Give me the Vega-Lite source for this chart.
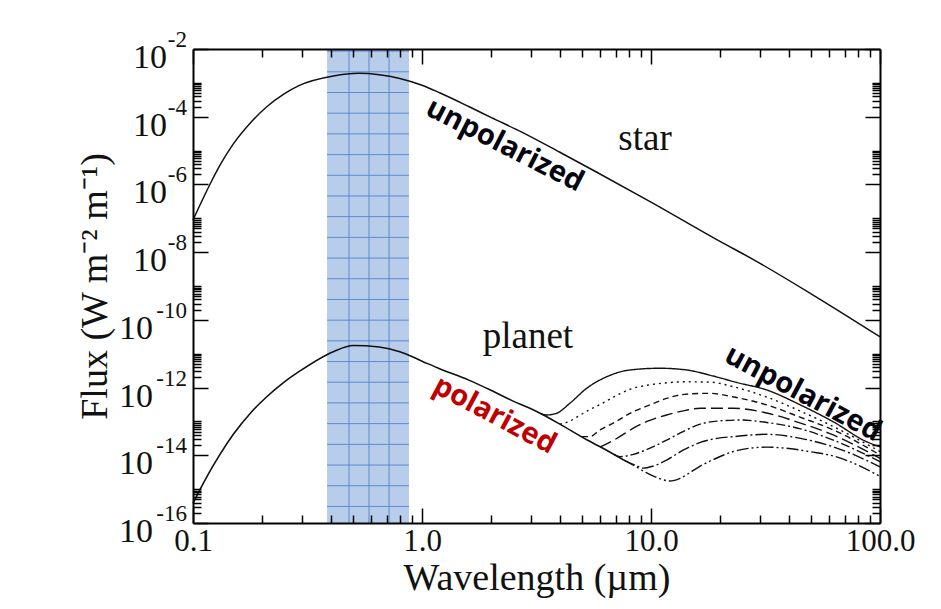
{
  "$schema": "https://vega.github.io/schema/vega-lite/v6.json",
  "width": 687,
  "height": 474,
  "autosize": {"type": "none"},
  "padding": {"left": 193, "top": 49, "right": 61, "bottom": 86},
  "background": "white",
  "config": {"view": {"stroke": null}},
  "datasets": {
    "star": [
      {"lambda": 0.1, "flux": 8.91e-8}, {"lambda": 0.107, "flux": 2.38e-7}, {"lambda": 0.12, "flux": 1.18e-6},
      {"lambda": 0.131, "flux": 3.64e-6}, {"lambda": 0.15, "flux": 1.57e-5}, {"lambda": 0.18, "flux": 7.13e-5},
      {"lambda": 0.21, "flux": 1.97e-4}, {"lambda": 0.25, "flux": 4.72e-4}, {"lambda": 0.29, "flux": 8.30e-4},
      {"lambda": 0.41, "flux": 1.60e-3}, {"lambda": 0.53, "flux": 1.91e-3}, {"lambda": 0.65, "flux": 1.74e-3},
      {"lambda": 0.8, "flux": 1.35e-3}, {"lambda": 1.0, "flux": 8.51e-4}, {"lambda": 1.2, "flux": 5.01e-4},
      {"lambda": 1.6, "flux": 2.00e-4}, {"lambda": 2.0, "flux": 9.55e-5}, {"lambda": 2.7, "flux": 3.63e-5},
      {"lambda": 4.0, "flux": 8.91e-6}, {"lambda": 5.8, "flux": 2.29e-6}, {"lambda": 10, "flux": 3.02e-7},
      {"lambda": 20, "flux": 2.09e-8}, {"lambda": 28, "flux": 6.03e-9}, {"lambda": 50, "flux": 5.89e-10},
      {"lambda": 100, "flux": 3.16e-11}
    ],
    "planet": [
      {"lambda": 0.1, "flux": 3.80e-16}, {"lambda": 0.107, "flux": 9.33e-16}, {"lambda": 0.12, "flux": 3.89e-15},
      {"lambda": 0.131, "flux": 1.05e-14}, {"lambda": 0.15, "flux": 4.17e-14}, {"lambda": 0.18, "flux": 1.91e-13},
      {"lambda": 0.21, "flux": 5.37e-13}, {"lambda": 0.25, "flux": 1.45e-12}, {"lambda": 0.29, "flux": 2.95e-12},
      {"lambda": 0.41, "flux": 1.15e-11}, {"lambda": 0.5, "flux": 1.74e-11}, {"lambda": 0.65, "flux": 1.58e-11},
      {"lambda": 0.8, "flux": 1.15e-11}, {"lambda": 1.0, "flux": 6.03e-12}, {"lambda": 1.2, "flux": 3.55e-12},
      {"lambda": 1.6, "flux": 1.66e-12}, {"lambda": 2.0, "flux": 8.32e-13}, {"lambda": 2.5, "flux": 3.98e-13},
      {"lambda": 2.96, "flux": 2.45e-13}, {"lambda": 3.39, "flux": 1.55e-13}, {"lambda": 4.0, "flux": 8.32e-14},
      {"lambda": 5.24, "flux": 2.88e-14}, {"lambda": 6.0, "flux": 1.78e-14}, {"lambda": 7.6, "flux": 7.24e-15}
    ],
    "thermal": [
      {"series": "C1", "lambda": 3.3, "flux": 1.70e-13}, {"series": "C1", "lambda": 3.5, "flux": 1.55e-13},
      {"series": "C1", "lambda": 3.87, "flux": 1.74e-13}, {"series": "C1", "lambda": 4.43, "flux": 3.47e-13},
      {"series": "C1", "lambda": 5.24, "flux": 9.55e-13}, {"series": "C1", "lambda": 6.41, "flux": 2.09e-12},
      {"series": "C1", "lambda": 8.1, "flux": 3.31e-12}, {"series": "C1", "lambda": 10.9, "flux": 3.72e-12},
      {"series": "C1", "lambda": 14.3, "flux": 3.31e-12}, {"series": "C1", "lambda": 18.7, "flux": 2.19e-12},
      {"series": "C1", "lambda": 23.7, "flux": 1.41e-12}, {"series": "C1", "lambda": 32, "flux": 8.51e-13},
      {"series": "C1", "lambda": 44.8, "flux": 3.09e-13}, {"series": "C1", "lambda": 62.5, "flux": 9.77e-14},
      {"series": "C1", "lambda": 87.5, "flux": 2.51e-14}, {"series": "C1", "lambda": 100, "flux": 1.78e-14},

      {"series": "C2", "lambda": 4.0, "flux": 8.32e-14}, {"series": "C2", "lambda": 4.4, "flux": 1.00e-13},
      {"series": "C2", "lambda": 4.8, "flux": 1.41e-13}, {"series": "C2", "lambda": 5.3, "flux": 2.09e-13},
      {"series": "C2", "lambda": 5.99, "flux": 3.16e-13}, {"series": "C2", "lambda": 7.0, "flux": 5.62e-13},
      {"series": "C2", "lambda": 8.1, "flux": 8.91e-13}, {"series": "C2", "lambda": 9.6, "flux": 1.17e-12},
      {"series": "C2", "lambda": 11.3, "flux": 1.35e-12}, {"series": "C2", "lambda": 14, "flux": 1.48e-12},
      {"series": "C2", "lambda": 18.1, "flux": 1.45e-12}, {"series": "C2", "lambda": 23, "flux": 1.05e-12},
      {"series": "C2", "lambda": 32, "flux": 5.25e-13}, {"series": "C2", "lambda": 45, "flux": 2.00e-13},
      {"series": "C2", "lambda": 62.5, "flux": 7.08e-14}, {"series": "C2", "lambda": 100, "flux": 1.29e-14},

      {"series": "C3", "lambda": 5.0, "flux": 3.55e-14}, {"series": "C3", "lambda": 5.4, "flux": 3.55e-14},
      {"series": "C3", "lambda": 5.99, "flux": 5.62e-14}, {"series": "C3", "lambda": 6.84, "flux": 8.91e-14},
      {"series": "C3", "lambda": 8.37, "flux": 1.95e-13}, {"series": "C3", "lambda": 9.58, "flux": 2.82e-13},
      {"series": "C3", "lambda": 11.7, "flux": 4.79e-13}, {"series": "C3", "lambda": 14, "flux": 6.31e-13},
      {"series": "C3", "lambda": 18.1, "flux": 6.76e-13}, {"series": "C3", "lambda": 23, "flux": 5.25e-13},
      {"series": "C3", "lambda": 32, "flux": 3.09e-13}, {"series": "C3", "lambda": 45, "flux": 1.32e-13},
      {"series": "C3", "lambda": 62.5, "flux": 5.62e-14}, {"series": "C3", "lambda": 100, "flux": 1.02e-14},

      {"series": "C4", "lambda": 6.0, "flux": 1.78e-14}, {"series": "C4", "lambda": 6.6, "flux": 2.40e-14},
      {"series": "C4", "lambda": 7.3, "flux": 3.55e-14}, {"series": "C4", "lambda": 8.37, "flux": 6.31e-14},
      {"series": "C4", "lambda": 9.6, "flux": 1.00e-13}, {"series": "C4", "lambda": 11.7, "flux": 1.55e-13},
      {"series": "C4", "lambda": 14, "flux": 2.09e-13}, {"series": "C4", "lambda": 16.4, "flux": 2.45e-13},
      {"series": "C4", "lambda": 22.9, "flux": 2.45e-13}, {"series": "C4", "lambda": 32, "flux": 1.78e-13},
      {"series": "C4", "lambda": 45, "flux": 8.91e-14}, {"series": "C4", "lambda": 62.5, "flux": 3.98e-14},
      {"series": "C4", "lambda": 100, "flux": 8.13e-15},

      {"series": "C5", "lambda": 6.9, "flux": 1.05e-14}, {"series": "C5", "lambda": 7.32, "flux": 9.12e-15},
      {"series": "C5", "lambda": 8.3, "flux": 1.05e-14}, {"series": "C5", "lambda": 9.9, "flux": 1.62e-14},
      {"series": "C5", "lambda": 11.7, "flux": 2.82e-14}, {"series": "C5", "lambda": 13.8, "flux": 5.01e-14},
      {"series": "C5", "lambda": 16.4, "flux": 8.32e-14}, {"series": "C5", "lambda": 19.4, "flux": 1.02e-13},
      {"series": "C5", "lambda": 24.5, "flux": 1.10e-13}, {"series": "C5", "lambda": 32, "flux": 9.33e-14},
      {"series": "C5", "lambda": 45, "flux": 6.03e-14}, {"series": "C5", "lambda": 62.5, "flux": 2.82e-14},
      {"series": "C5", "lambda": 100, "flux": 6.46e-15},

      {"series": "C6", "lambda": 7.6, "flux": 7.24e-15}, {"series": "C6", "lambda": 8.6, "flux": 5.01e-15},
      {"series": "C6", "lambda": 9.26, "flux": 4.17e-15}, {"series": "C6", "lambda": 10.2, "flux": 4.79e-15},
      {"series": "C6", "lambda": 11.7, "flux": 7.24e-15}, {"series": "C6", "lambda": 13.8, "flux": 1.41e-14},
      {"series": "C6", "lambda": 16.4, "flux": 2.40e-14}, {"series": "C6", "lambda": 19.4, "flux": 3.16e-14},
      {"series": "C6", "lambda": 22.9, "flux": 3.55e-14}, {"series": "C6", "lambda": 32, "flux": 4.17e-14},
      {"series": "C6", "lambda": 45, "flux": 3.16e-14}, {"series": "C6", "lambda": 62.5, "flux": 1.78e-14},
      {"series": "C6", "lambda": 100, "flux": 4.57e-15},

      {"series": "C7", "lambda": 7.6, "flux": 7.24e-15}, {"series": "C7", "lambda": 8.66, "flux": 4.47e-15},
      {"series": "C7", "lambda": 9.58, "flux": 3.02e-15}, {"series": "C7", "lambda": 10.8, "flux": 2.09e-15},
      {"series": "C7", "lambda": 12.1, "flux": 1.74e-15}, {"series": "C7", "lambda": 13.4, "flux": 2.09e-15},
      {"series": "C7", "lambda": 14.5, "flux": 2.82e-15}, {"series": "C7", "lambda": 16.4, "flux": 4.79e-15},
      {"series": "C7", "lambda": 19.4, "flux": 8.32e-15}, {"series": "C7", "lambda": 22.9, "flux": 1.29e-14},
      {"series": "C7", "lambda": 28, "flux": 1.66e-14}, {"series": "C7", "lambda": 32, "flux": 1.74e-14},
      {"series": "C7", "lambda": 40, "flux": 1.58e-14}, {"series": "C7", "lambda": 50, "flux": 1.26e-14},
      {"series": "C7", "lambda": 62.5, "flux": 9.55e-15}, {"series": "C7", "lambda": 100, "flux": 2.40e-15}
    ],
    "band": [{"lo": 0.385, "hi": 0.877}],
    "bandV": [{"lambda": 0.48}, {"lambda": 0.587}, {"lambda": 0.718}],
    "bandH": [
      {"flux": 8.67e-3}, {"flux": 2.12e-3}, {"flux": 5.19e-4}, {"flux": 1.27e-4}, {"flux": 3.11e-5},
      {"flux": 7.60e-6}, {"flux": 1.86e-6}, {"flux": 4.56e-7}, {"flux": 1.12e-7}, {"flux": 2.73e-8},
      {"flux": 6.68e-9}, {"flux": 1.64e-9}, {"flux": 4.00e-10}, {"flux": 9.79e-11}, {"flux": 2.40e-11},
      {"flux": 5.86e-12}, {"flux": 1.44e-12}, {"flux": 3.52e-13}, {"flux": 8.61e-14}, {"flux": 2.10e-14},
      {"flux": 5.15e-15}, {"flux": 1.26e-15}, {"flux": 3.08e-16}
    ],
    "ylab": [
      {"v": 1e-2, "e": "-2"}, {"v": 1e-4, "e": "-4"}, {"v": 1e-6, "e": "-6"}, {"v": 1e-8, "e": "-8"},
      {"v": 1e-10, "e": "-10"}, {"v": 1e-12, "e": "-12"}, {"v": 1e-14, "e": "-14"}, {"v": 1e-16, "e": "-16"}
    ]
  },
  "resolve": {"axis": {"x": "independent", "y": "independent"}},
  "layer": [
    {
      "data": {"name": "band"},
      "mark": {"type": "rect", "fill": "#b8cdea", "stroke": null},
      "encoding": {
        "x": {"field": "lo", "type": "quantitative",
          "scale": {"type": "log", "domain": [0.1, 100], "nice": false},
          "axis": {"orient": "bottom", "values": [0.1, 1, 10, 100], "format": ".1f", "ticks": false, "domain": false, "grid": false,
            "labelFont": "Liberation Serif", "labelFontSize": 31, "labelColor": "#111", "labelPadding": 3,
            "labelFlush": false, "labelOverlap": false,
            "title": "Wavelength (µm)", "titleFont": "Liberation Serif", "titleFontSize": 38, "titleFontWeight": "normal",
            "titleColor": "#111", "titlePadding": 3}},
        "x2": {"field": "hi"}
      }
    },
    {
      "data": {"name": "bandV"},
      "mark": {"type": "rule", "stroke": "#5a8ad0", "strokeWidth": 1},
      "encoding": {
        "x": {"field": "lambda", "type": "quantitative",
          "scale": {"type": "log", "domain": [0.1, 100], "nice": false},
          "axis": {"orient": "top", "values": [0.1,0.2,0.3,0.4,0.5,0.6,0.7,0.8,0.9,1,2,3,4,5,6,7,8,9,10,20,30,40,50,60,70,80,90,100],
            "labels": false, "title": null, "grid": false, "domain": true, "domainColor": "#000", "domainWidth": 2,
            "tickColor": "#000", "tickWidth": 1.5, "zindex": 2,
            "tickSize": {"condition": {"test": "indexof([0.1, 1, 10, 100], datum.value) >= 0", "value": -15}, "value": -8}}}
      }
    },
    {
      "data": {"name": "bandH"},
      "mark": {"type": "rule", "stroke": "#5a8ad0", "strokeWidth": 1},
      "encoding": {
        "x": {"datum": 0.385, "type": "quantitative", "scale": {"type": "log", "domain": [0.1, 100], "nice": false}, "axis": null},
        "x2": {"datum": 0.877},
        "y": {"field": "flux", "type": "quantitative",
          "scale": {"type": "log", "domain": [1e-16, 1e-2], "nice": false},
          "axis": {"orient": "right", "values": [1e-2,2e-4,3e-4,4e-4,5e-4,6e-4,7e-4,8e-4,9e-4,1e-3,1e-4,2e-6,3e-6,4e-6,5e-6,6e-6,7e-6,8e-6,9e-6,1e-5,1e-6,2e-8,3e-8,4e-8,5e-8,6e-8,7e-8,8e-8,9e-8,1e-7,1e-8,2e-10,3e-10,4e-10,5e-10,6e-10,7e-10,8e-10,9e-10,1e-9,1e-10,2e-12,3e-12,4e-12,5e-12,6e-12,7e-12,8e-12,9e-12,1e-11,1e-12,2e-14,3e-14,4e-14,5e-14,6e-14,7e-14,8e-14,9e-14,1e-13,1e-14,2e-16,3e-16,4e-16,5e-16,6e-16,7e-16,8e-16,9e-16,1e-15,1e-16],
            "labels": false, "title": null, "grid": false, "domain": true, "domainColor": "#000", "domainWidth": 2,
            "tickColor": "#000", "tickWidth": 1.5, "zindex": 2,
            "tickSize": {"condition": {"test": "indexof([1e-2,1e-4,1e-6,1e-8,1e-10,1e-12,1e-14,1e-16], datum.value) >= 0", "value": -15}, "value": -8}}}
      }
    },
    {
      "data": {"name": "star"},
      "mark": {"type": "line", "stroke": "#111", "strokeWidth": 1.5, "interpolate": "monotone"},
      "encoding": {
        "x": {"field": "lambda", "type": "quantitative",
          "scale": {"type": "log", "domain": [0.1, 100], "nice": false},
          "axis": {"orient": "bottom", "values": [0.1,0.2,0.3,0.4,0.5,0.6,0.7,0.8,0.9,1,2,3,4,5,6,7,8,9,10,20,30,40,50,60,70,80,90,100],
            "labels": false, "title": null, "grid": false, "domain": true, "domainColor": "#000", "domainWidth": 2,
            "tickColor": "#000", "tickWidth": 1.5, "zindex": 2,
            "tickSize": {"condition": {"test": "indexof([0.1, 1, 10, 100], datum.value) >= 0", "value": -15}, "value": -8}}},
        "y": {"field": "flux", "type": "quantitative",
          "scale": {"type": "log", "domain": [1e-16, 1e-2], "nice": false},
          "axis": {"orient": "left", "values": [1e-2,2e-4,3e-4,4e-4,5e-4,6e-4,7e-4,8e-4,9e-4,1e-3,1e-4,2e-6,3e-6,4e-6,5e-6,6e-6,7e-6,8e-6,9e-6,1e-5,1e-6,2e-8,3e-8,4e-8,5e-8,6e-8,7e-8,8e-8,9e-8,1e-7,1e-8,2e-10,3e-10,4e-10,5e-10,6e-10,7e-10,8e-10,9e-10,1e-9,1e-10,2e-12,3e-12,4e-12,5e-12,6e-12,7e-12,8e-12,9e-12,1e-11,1e-12,2e-14,3e-14,4e-14,5e-14,6e-14,7e-14,8e-14,9e-14,1e-13,1e-14,2e-16,3e-16,4e-16,5e-16,6e-16,7e-16,8e-16,9e-16,1e-15,1e-16],
            "labels": false, "grid": false, "domain": true, "domainColor": "#000", "domainWidth": 2,
            "tickColor": "#000", "tickWidth": 1.5, "zindex": 2,
            "tickSize": {"condition": {"test": "indexof([1e-2,1e-4,1e-6,1e-8,1e-10,1e-12,1e-14,1e-16], datum.value) >= 0", "value": -15}, "value": -8},
            "title": "Flux (W m⁻² m⁻¹)", "titleFont": "Liberation Serif", "titleFontSize": 38, "titleFontWeight": "normal",
            "titleColor": "#111", "titlePadding": 78}}
      }
    },
    {
      "data": {"name": "planet"},
      "mark": {"type": "line", "stroke": "#111", "strokeWidth": 1.6, "interpolate": "monotone"},
      "encoding": {
        "x": {"field": "lambda", "type": "quantitative", "scale": {"type": "log", "domain": [0.1, 100], "nice": false}, "axis": null},
        "y": {"field": "flux", "type": "quantitative", "scale": {"type": "log", "domain": [1e-16, 1e-2], "nice": false}, "axis": null}
      }
    },
    {
      "data": {"name": "thermal"},
      "mark": {"type": "line", "stroke": "#111", "strokeWidth": 1.4, "interpolate": "monotone"},
      "encoding": {
        "x": {"field": "lambda", "type": "quantitative", "scale": {"type": "log", "domain": [0.1, 100], "nice": false}, "axis": null},
        "y": {"field": "flux", "type": "quantitative", "scale": {"type": "log", "domain": [1e-16, 1e-2], "nice": false}, "axis": null},
        "strokeDash": {"field": "series", "type": "nominal", "legend": null,
          "scale": {"domain": ["C1", "C2", "C3", "C4", "C5", "C6", "C7"],
            "range": [[1, 0], [2, 4], [6, 4], [12, 5], [9, 3, 2, 3], [12, 3, 2, 3], [12, 3, 2, 3, 2, 3]]}}
      }
    },
    {
      "data": {"name": "ylab"},
      "transform": [{"filter": "length(datum.e) == 2"}],
      "mark": {"type": "text", "text": "10", "font": "Liberation Serif", "fontSize": 34, "color": "#111", "align": "right", "baseline": "alphabetic", "dx": -26, "dy": 19},
      "encoding": {
        "x": {"datum": 0.1, "type": "quantitative", "scale": {"type": "log", "domain": [0.1, 100], "nice": false}, "axis": null},
        "y": {"field": "v", "type": "quantitative", "scale": {"type": "log", "domain": [1e-16, 1e-2], "nice": false}, "axis": null}
      }
    },
    {
      "data": {"name": "ylab"},
      "transform": [{"filter": "length(datum.e) == 3"}],
      "mark": {"type": "text", "text": "10", "font": "Liberation Serif", "fontSize": 34, "color": "#111", "align": "right", "baseline": "alphabetic", "dx": -40, "dy": 19},
      "encoding": {
        "x": {"datum": 0.1, "type": "quantitative", "scale": {"type": "log", "domain": [0.1, 100], "nice": false}, "axis": null},
        "y": {"field": "v", "type": "quantitative", "scale": {"type": "log", "domain": [1e-16, 1e-2], "nice": false}, "axis": null}
      }
    },
    {
      "data": {"name": "ylab"},
      "mark": {"type": "text", "font": "Liberation Serif", "fontSize": 23, "color": "#111", "align": "right", "baseline": "alphabetic", "dx": -6, "dy": -2},
      "encoding": {
        "x": {"datum": 0.1, "type": "quantitative", "scale": {"type": "log", "domain": [0.1, 100], "nice": false}, "axis": null},
        "y": {"field": "v", "type": "quantitative", "scale": {"type": "log", "domain": [1e-16, 1e-2], "nice": false}, "axis": null},
        "text": {"field": "e"}
      }
    },
    {
      "data": {"values": [{"label": "star", "lambda": 9.42, "flux": 1.05e-5}, {"label": "planet", "lambda": 2.9, "flux": 1.45e-11}]},
      "mark": {"type": "text", "font": "Liberation Serif", "fontSize": 37, "color": "#111", "align": "center", "baseline": "alphabetic"},
      "encoding": {
        "x": {"field": "lambda", "type": "quantitative", "scale": {"type": "log", "domain": [0.1, 100], "nice": false}, "axis": null},
        "y": {"field": "flux", "type": "quantitative", "scale": {"type": "log", "domain": [1e-16, 1e-2], "nice": false}, "axis": null},
        "text": {"field": "label"}
      }
    },
    {
      "data": {"values": [{"label": "unpolarized", "lambda": 2.3, "flux": 1.46e-5}]},
      "mark": {"type": "text", "font": "Open Sans", "fontWeight": "bold", "fontSize": 29, "color": "#050510", "align": "center", "baseline": "middle", "angle": 27},
      "encoding": {
        "x": {"field": "lambda", "type": "quantitative", "scale": {"type": "log", "domain": [0.1, 100], "nice": false}, "axis": null},
        "y": {"field": "flux", "type": "quantitative", "scale": {"type": "log", "domain": [1e-16, 1e-2], "nice": false}, "axis": null},
        "text": {"field": "label"}
      }
    },
    {
      "data": {"values": [{"label": "unpolarized", "lambda": 46.1, "flux": 6.76e-13}]},
      "mark": {"type": "text", "font": "Open Sans", "fontWeight": "bold", "fontSize": 29, "color": "#050510", "align": "center", "baseline": "middle", "angle": 28},
      "encoding": {
        "x": {"field": "lambda", "type": "quantitative", "scale": {"type": "log", "domain": [0.1, 100], "nice": false}, "axis": null},
        "y": {"field": "flux", "type": "quantitative", "scale": {"type": "log", "domain": [1e-16, 1e-2], "nice": false}, "axis": null},
        "text": {"field": "label"}
      }
    },
    {
      "data": {"values": [{"label": "polarized", "lambda": 2.08, "flux": 1.55e-13}]},
      "mark": {"type": "text", "font": "Open Sans", "fontWeight": "bold", "fontSize": 29, "color": "#c00000", "align": "center", "baseline": "middle", "angle": 28},
      "encoding": {
        "x": {"field": "lambda", "type": "quantitative", "scale": {"type": "log", "domain": [0.1, 100], "nice": false}, "axis": null},
        "y": {"field": "flux", "type": "quantitative", "scale": {"type": "log", "domain": [1e-16, 1e-2], "nice": false}, "axis": null},
        "text": {"field": "label"}
      }
    }
  ]
}
